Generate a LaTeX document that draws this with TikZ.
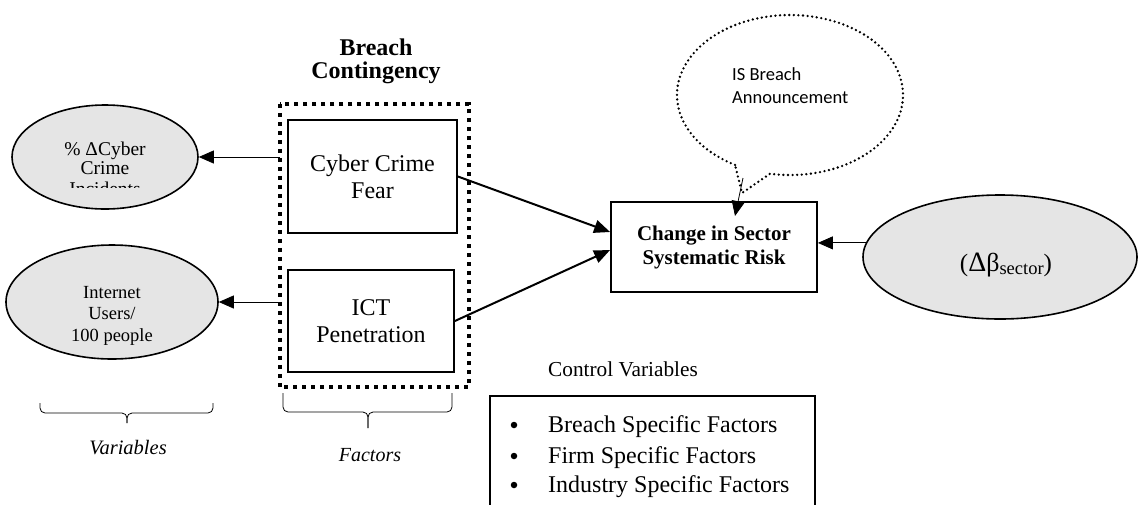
\documentclass[tikz,border=0pt]{standalone}
\usepackage{fontspec}
\setmainfont{Liberation Serif}
\newfontfamily\calib{Carlito}
\usetikzlibrary{arrows.meta,shapes.geometric}
\begin{document}
\begin{tikzpicture}[x=1pt,y=-1pt,
  ellip/.style={ellipse, draw, line width=1.6pt, fill=gray!20, inner sep=0pt},
  boxa/.style={rectangle, draw, line width=1.8pt, inner sep=0pt, align=center},
  txt/.style={inner sep=0pt, anchor=base},
  thinarr/.style={line width=0.8pt, -{Triangle[length=15pt,width=13pt]}},
  thickarr/.style={line width=2pt, -{Triangle[length=16pt,width=13pt]}},
  squaredots/.style={line width=4pt, dash pattern=on 4pt off 5pt},
  bubble/.style={line width=2.6pt, dash pattern=on 0pt off 4.6pt, line cap=round},
  bracestyle/.style={line width=0.8pt, rounded corners=5pt},
  bulletdot/.style={circle, fill=black, inner sep=0pt, minimum size=6.5pt},
]
\fill[white] (0,0) rectangle (1139,504);
\clip (0,0) rectangle (1139,504);

% left ellipses
\node[ellip, minimum width=186pt, minimum height=104pt] (ell1) at (105,157) {};
\node[txt, font=\fontsize{19.5}{20}\selectfont] (e1a) at (105,155) {\% ΔCyber};
\node[txt, font=\fontsize{19.5}{20}\selectfont] (e1b) at (105,174) {Crime};
\begin{scope}
\clip (0,0) rectangle (1139,187);
\node[txt, font=\fontsize{19.5}{20}\selectfont] (e1c) at (105,195) {Incidents};
\end{scope}

\node[ellip, minimum width=212pt, minimum height=114pt] (ell2) at (112,302) {};
\node[txt, font=\fontsize{18.5}{19}\selectfont] (e2a) at (112,298) {Internet};
\node[txt, font=\fontsize{18.5}{19}\selectfont] (e2b) at (112,319) {Users/};
\node[txt, font=\fontsize{18.5}{19}\selectfont] (e2c) at (112,341) {100 people};

% title
\node[txt, font=\bfseries\fontsize{24}{26}\selectfont] (tt1) at (376,55) {Breach};
\node[txt, font=\bfseries\fontsize{24}{26}\selectfont] (tt2) at (376,78) {Contingency};

% factor boxes
\node[draw=none, minimum width=189pt, minimum height=283pt, inner sep=0pt] (grp) at (374.5,245.5) {};
\draw[squaredots] (grp.north west) rectangle (grp.south east);
\node[boxa, minimum width=169pt, minimum height=113pt, font=\fontsize{24}{27}\selectfont] (fear) at (372.5,176.5) {Cyber Crime\\Fear};
\node[boxa, minimum width=166pt, minimum height=102pt, font=\fontsize{24}{27}\selectfont] (ict) at (371,321) {ICT\\Penetration};

% arrows to ellipses
\draw[thinarr] (grp.west |- ell1.east) -- (ell1.east);
\draw[thinarr] (grp.west |- ell2.east) -- (ell2.east);

% change box
\node[boxa, minimum width=206pt, minimum height=90pt, font=\bfseries\fontsize{21}{24}\selectfont] (chg) at (714,247) {Change in Sector\\Systematic Risk};
\draw[thickarr] (fear.east) -- ([yshift=15pt]chg.west);
\draw[thickarr] (ict.east) -- ([yshift=-3pt]chg.west);

% beta ellipse
\node[ellip, minimum width=274pt, minimum height=124pt] (beta) at (1000,257) {};
\node[inner sep=0pt] (bt) at (1006,265) {\fontsize{25}{28}\selectfont(\fontsize{28}{28}\selectfont Δ\fontsize{26}{28}\selectfont β\raisebox{-0.12em}{\fontsize{18.5}{20}\selectfont sector}\fontsize{25}{28}\selectfont)};
\draw[thinarr] (beta.174) -- (beta.174 -| chg.east);

% bubble
\draw[bubble] (790,95) ++(119.1:113 and 80) arc[start angle=119.1, end angle=460.2, x radius=113, y radius=80] -- (742,193) -- cycle;
\node[inner sep=0pt, anchor=base west, font=\calib\fontsize{18.5}{23}\selectfont] (ib1) at (732,80) {IS Breach};
\node[inner sep=0pt, anchor=base west, font=\calib\fontsize{18.5}{23}\selectfont] (ib2) at (732,103) {Announcement};
\coordinate (tail) at (743,178);
\coordinate (chgin) at (735,216);
\draw[thinarr] (tail) -- (chgin);

% braces
\draw[bracestyle] (40,403) -- (40,413) -- (127,413) -- (127,423);
\draw[bracestyle] (213,403) -- (213,413) -- (127,413) -- (127,423);
\node[font=\itshape\fontsize{20.5}{22}\selectfont] (var) at (128,448) {Variables};
\draw[bracestyle] (283,393) -- (283,412) -- (368,412) -- (368,428);
\draw[bracestyle] (452,393) -- (452,412) -- (368,412) -- (368,428);
\node[font=\itshape\fontsize{20}{22}\selectfont] (fac) at (370,455) {Factors};

% control variables
\node[txt, anchor=base west, font=\fontsize{21.3}{24}\selectfont] (cv) at (548,376) {Control Variables};
\node[draw, line width=1.8pt, minimum width=325pt, minimum height=130pt, anchor=north west, inner sep=0pt] (ctrl) at (489,395) {};
\node[bulletdot] (b1) at (514,425) {};
\node[bulletdot] (b2) at (514,456) {};
\node[bulletdot] (b3) at (514,485) {};
\node[txt, anchor=base west, font=\fontsize{24}{28}\selectfont] (c1) at (548,432) {Breach Specific Factors};
\node[txt, anchor=base west, font=\fontsize{24}{28}\selectfont] (c2) at (548,463) {Firm Specific Factors};
\node[txt, anchor=base west, font=\fontsize{24}{28}\selectfont] (c3) at (548,492) {Industry Specific Factors};
\end{tikzpicture}
\end{document}
